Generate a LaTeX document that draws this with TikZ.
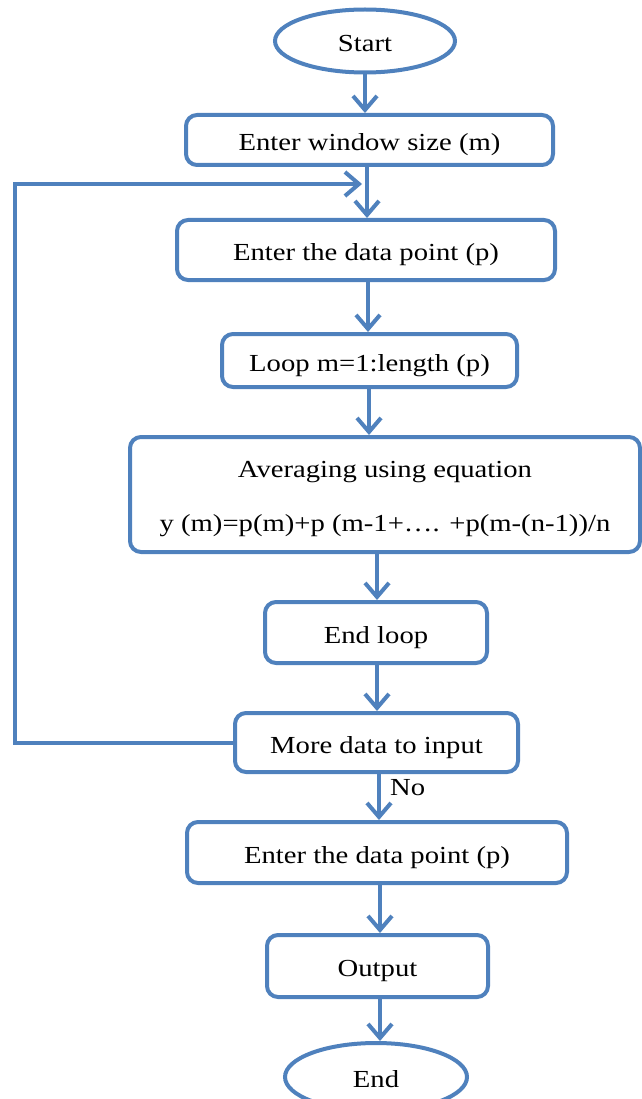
\documentclass[tikz,border=0pt]{standalone}
\usepackage{fontspec}
\setmainfont{Liberation Serif}
\usetikzlibrary{arrows.meta,shapes.geometric}
\definecolor{fb}{HTML}{4F81BD}
\newcommand\wtxt[1]{\scalebox{1.17}[1]{#1}}
\begin{document}
\begin{tikzpicture}[x=1pt,y=-1pt,
  txt/.style={font=\fontsize{24.5}{29}\selectfont, text=black},
  basebox/.style={txt, draw=fb, line width=4pt, rounded corners=11pt, inner sep=0pt, align=center},
  box/.style={basebox, text height=21pt, text depth=0pt},
  term/.style={txt, draw=fb, line width=4pt, ellipse, inner sep=0pt, text height=21pt, text depth=0pt},
  arr/.style={draw=fb, line width=4pt, line join=miter, -{Straight Barb[length=14pt,width=24pt]}}]
\useasboundingbox (0,0) rectangle (641,1099);
\node[term, minimum width=180pt, minimum height=63pt] (start) at (365,41) {\wtxt{Start}};
\node[box, minimum width=367pt, minimum height=50pt] (b1) at (369.5,140) {\wtxt{Enter window size (m)}};
\node[box, minimum width=378pt, minimum height=60pt] (b2) at (366,250) {\wtxt{Enter the data point (p)}};
\node[box, minimum width=295pt, minimum height=53pt] (b3) at (369.5,360.5) {\wtxt{Loop m=1:length (p)}};
\node[basebox, minimum width=510pt, minimum height=115pt] (b4) at (385,494.5) {\rule{0pt}{26pt}\wtxt{Averaging using equation}\\[25pt]\wtxt{y (m)=p(m)+p (m-1+…. +p(m-(n-1))/n}};
\node[box, minimum width=222pt, minimum height=61pt] (b5) at (376,632.5) {\wtxt{End loop}};
\node[box, minimum width=283pt, minimum height=59pt] (b6) at (376.5,742.5) {\wtxt{More data to input}};
\node[box, minimum width=380pt, minimum height=61pt] (b7) at (377,852.5) {\wtxt{Enter the data point (p)}};
\node[box, minimum width=221pt, minimum height=62pt] (b8) at (377.5,966) {\wtxt{Output}};
\node[term, minimum width=182pt, minimum height=68pt] (end) at (376,1077) {\wtxt{End}};
\node[txt, anchor=west, inner sep=0pt] (no) at (390,788) {\wtxt{No}};
\coordinate (loopL) at (15,184);
\coordinate (loopEnd) at (362,184);
\draw[arr] (start.south) -- (start.south |- b1.north);
\draw[arr] (b1.south -| 367,0) -- (b2.north -| 367,0);
\draw[arr] (b2.south -| 368,0) -- (b3.north -| 368,0);
\draw[arr] (b3.south -| 369,0) -- (b4.north -| 369,0);
\draw[arr] (b4.south -| 377,0) -- (b5.north -| 377,0);
\draw[arr] (b5.south -| 377,0) -- (b6.north -| 377,0);
\draw[arr] (b6.south -| 379,0) -- (b7.north -| 379,0);
\draw[arr] (b7.south -| 380,0) -- (b8.north -| 380,0);
\draw[arr] (b8.south -| 380,0) -- (end.north -| 380,0);
\draw[arr] (b6.west) -| (loopL) -- (loopEnd);
\end{tikzpicture}
\end{document}
